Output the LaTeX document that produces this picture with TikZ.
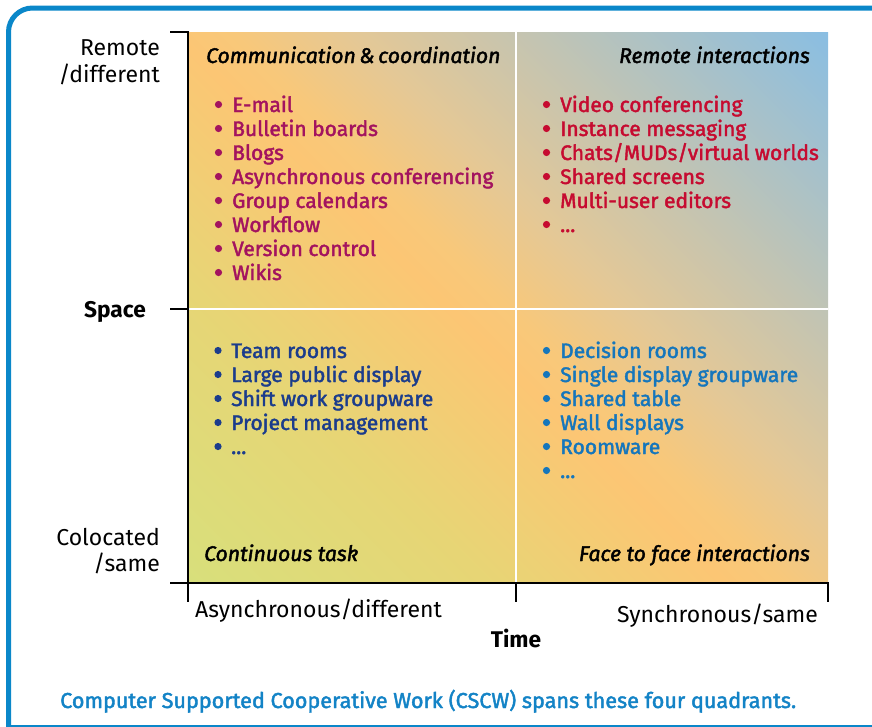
\documentclass[tikz,border=0pt]{standalone}
\usepackage{fontspec}
\setmainfont{Fira Sans}
\newfontfamily\medfont{Fira Sans}[UprightFeatures={FakeBold=2}, ItalicFeatures={FakeBold=2}]
\definecolor{frameblue}{HTML}{0A87C9}
\definecolor{capblue}{HTML}{1383C6}
\definecolor{tlmag}{HTML}{A3135F}
\definecolor{trred}{HTML}{C60B30}
\definecolor{blnavy}{HTML}{1B3C8C}
\definecolor{brblue}{HTML}{1576BC}
\definecolor{g0}{HTML}{D8DF7B}
\definecolor{g1}{HTML}{E7D575}
\definecolor{g2}{HTML}{FCC674}
\definecolor{g3}{HTML}{F8C87A}
\definecolor{g4}{HTML}{E4C896}
\definecolor{g5}{HTML}{C3C4B2}
\definecolor{g6}{HTML}{8ABEE2}
\pgfdeclarehorizontalshading{cscw}{100bp}{color(0bp)=(g0); color(14.64bp)=(g0); color(32.32bp)=(g1); color(46.46bp)=(g2); color(50bp)=(g3); color(57.07bp)=(g4); color(67.68bp)=(g5); color(85.36bp)=(g6); color(100bp)=(g6)}
\newcommand\threedots{...}
\tikzset{
  lbl/.style={inner sep=0pt, font=\fontsize{23}{27}\selectfont},
  bold/.style={inner sep=0pt, font=\bfseries\fontsize{22.7}{26}\selectfont},
  itm/.style={inner sep=0pt, anchor=base west, font=\medfont\fontsize{21}{24}\selectfont},
  hd/.style={inner sep=0pt, font=\medfont\itshape\fontsize{21.2}{24}\selectfont},
  axisline/.style={line width=2.6pt},
  divider/.style={white, line width=2.4pt},
  frame/.style={draw=frameblue, line width=5pt},
  dot/.style={radius=3.6pt}
}
\begin{document}
\begin{tikzpicture}[x=1pt,y=-1pt]
\useasboundingbox (0,0) rectangle (872,726);
% frame
\draw[frame] (8.5,727) [rounded corners=24pt] -- (8.5,8) -- (880,8);
\draw[frame] (8.5,727) -- (880,727);
% panel
\shade[shading=cscw, shading angle=45] (188,32) rectangle (828,583);
\draw[divider] (516,32) -- (516,583);
\draw[divider] (189,309) -- (828,309);
% axes
\draw[axisline] (170,32) -- (188,32) -- (188,602);
\draw[axisline] (170,583) -- (828,583) -- (828,602);
\draw[axisline] (516,583) -- (516,602);
\draw[axisline] (170,309) -- (188,309);
% axis labels
\node[lbl, anchor=base east] (rem1) at (160,55) {Remote};
\node[lbl, anchor=base east] (rem2) at (160,82) {/different};
\node[bold, anchor=base east] (space) at (146,317) {Space};
\node[lbl, anchor=base east] (col1) at (160,545) {Colocated};
\node[lbl, anchor=base east] (col2) at (160,571) {/same};
\node[lbl, anchor=base west] (async) at (195,617) {Asynchronous/different};
\node[lbl, anchor=base east] (sync) at (818,622) {Synchronous/same};
\node[bold, anchor=base] (time) at (516,647) {Time};
% headings
\node[hd, anchor=base west] (h1) at (206,63) {Communication\,\&\,coordination};
\node[hd, anchor=base east] (h2) at (810,63) {Remote interactions};
\node[hd, anchor=base west] (h3) at (204,561) {Continuous task};
\node[hd, anchor=base east] (h4) at (810,561) {Face to face interactions};
% lists
\foreach \t [count=\i from 0] in {E-mail,Bulletin boards,Blogs,Asynchronous conferencing,Group calendars,Workflow,Version control,Wikis}{
  \fill[tlmag] (218.5,{104.5+24*\i}) circle[dot];
  \node[itm, text=tlmag] (tl\i) at (232,{112+24*\i}) {\t};}
\foreach \t [count=\i from 0] in {Video conferencing,Instance messaging,Chats/MUDs/virtual worlds,Shared screens,Multi-user editors,\threedots}{
  \fill[trred] (546.5,{104.5+24*\i}) circle[dot];
  \node[itm, text=trred] (tr\i) at (560,{112+24*\i}) {\t};}
\foreach \t [count=\i from 0] in {Team rooms,Large public display,Shift work groupware,Project management,\threedots}{
  \fill[blnavy] (218,{350.5+24*\i}) circle[dot];
  \node[itm, text=blnavy] (bl\i) at (231,{358+24*\i}) {\t};}
\foreach \t [count=\i from 0] in {Decision rooms,Single display groupware,Shared table,Wall displays,Roomware,\threedots}{
  \fill[brblue] (546.5,{350.5+24*\i}) circle[dot];
  \node[itm, text=brblue] (br\i) at (560,{358+24*\i}) {\t};}
% caption
\node[itm, text=capblue, font=\medfont\fontsize{21.6}{24}\selectfont] (cap) at (60,708) {Computer Supported Cooperative Work (CSCW) spans these four quadrants.};
\end{tikzpicture}
\end{document}
